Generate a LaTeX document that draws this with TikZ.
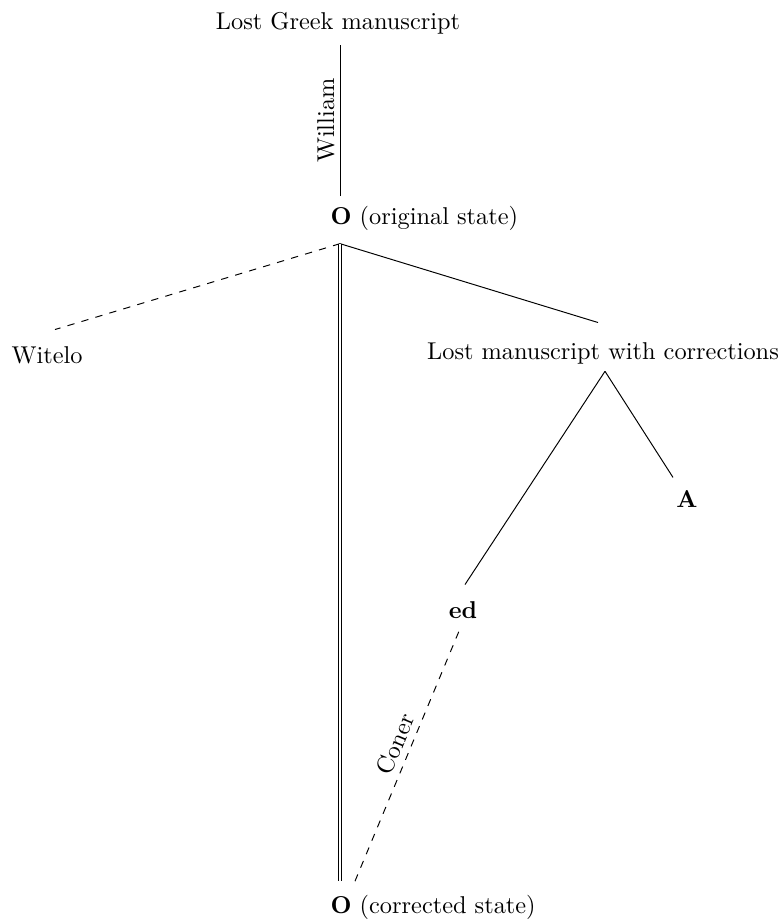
\documentclass[tikz,border=0pt]{standalone}
\usetikzlibrary{calc}
\begin{document}
\begin{tikzpicture}[x=0.411pt, y=-0.411pt,
  txt/.style={inner sep=3.33pt},
  edge/.style={draw, line width=0.4pt},
  lost/.style={edge, dashed},
  edgelabel/.style={sloped, above, inner sep=3pt}]
\useasboundingbox (0,0) rectangle (783,921);
% nodes
\node[txt, anchor=base] (lg) at (338,30) {Lost Greek manuscript};
\node[txt, anchor=base west] (o1) at (322,225) {\textbf{O} (original state)};
\node[txt, anchor=base] (wit) at (47,363) {Witelo};
\node[txt, anchor=base] (lmc) at (603,360) {Lost manuscript with corrections};
\node[txt, anchor=base] (a) at (687,507) {\textbf{A}};
\node[txt, anchor=base] (ed) at (463,618) {\textbf{ed}};
\node[txt, anchor=base west] (o2) at (322,913) {\textbf{O} (corrected state)};
% connector points
\coordinate (o1top) at ($(o1.north west)+(18,-2)$);
\coordinate (o1bot) at ($(o1.south west)+(18,4)$);
\coordinate (o2top) at ($(o2.north west)+(18,-5)$);
\coordinate (lgbot) at ($(lg.south -| o1top)+(0,2)$);
\coordinate (witend) at ($(wit.north)+(8,-8)$);
\coordinate (lmcend) at ($(lmc.north)+(-5,-12)$);
\coordinate (lmcbot) at ($(lmc.south)+(2,-2)$);
\coordinate (aend) at ($(a.north)+(-14,-4)$);
\coordinate (edend) at ($(ed.north)+(2,-8)$);
\coordinate (edbot) at ($(ed.south)+(-3,2)$);
\coordinate (o2dash) at ($(o2.north west)+(33,-5)$);
% connectors
\draw[edge] (o1top) -- node[edgelabel, inner sep=2pt] {William} (lgbot);
\draw[lost] (o1bot) -- (witend);
\draw[edge] (o1bot) -- (lmcend);
\draw[edge, double] (o1bot) -- (o2top);
\draw[edge] (lmcbot) -- (edend);
\draw[edge] (lmcbot) -- (aend);
\draw[lost] (o2dash) -- node[edgelabel, pos=0.52, inner sep=2.5pt] {Coner} (edbot);
\end{tikzpicture}
\end{document}
